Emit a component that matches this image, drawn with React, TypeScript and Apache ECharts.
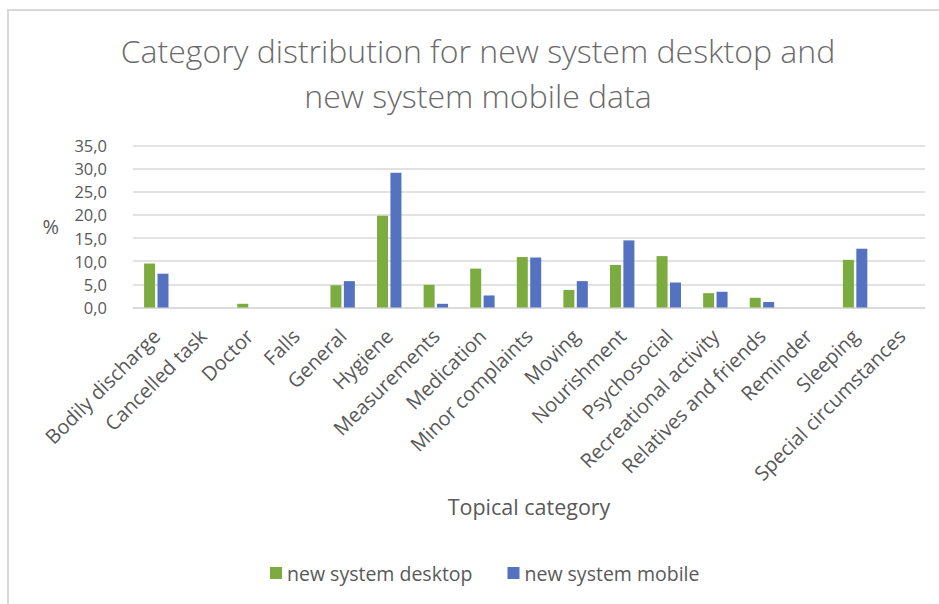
import React, { useEffect, useRef } from "react";
import * as echarts from "echarts";

const categories = [
  "Bodily discharge",
  "Cancelled task",
  "Doctor",
  "Falls",
  "General",
  "Hygiene",
  "Measurements",
  "Medication",
  "Minor complaints",
  "Moving",
  "Nourishment",
  "Psychosocial",
  "Recreational activity",
  "Relatives and friends",
  "Reminder",
  "Sleeping",
  "Special circumstances",
];

const desktopValues = [9.5, 0, 0.8, 0, 4.8, 19.8, 4.9, 8.4, 10.9, 3.8, 9.2, 11.1, 3.1, 2.1, 0, 10.3, 0];
const mobileValues = [7.3, 0, 0, 0, 5.7, 29.1, 0.8, 2.6, 10.8, 5.7, 14.5, 5.4, 3.4, 1.2, 0, 12.7, 0];

const seriesNames = ["new system desktop", "new system mobile"];
const titleText = "Category distribution for new system desktop and\nnew system mobile data";
const xAxisTitle = "Topical category";
const yAxisTitle = "%";

const FONT = "'Open Sans', 'Noto Sans', sans-serif";
const TEXT_COLOR = "#595959";

export default function App() {
  const ref = useRef<HTMLDivElement>(null);

  useEffect(() => {
    document.body.style.margin = "0";
    if (!ref.current) return;
    const chart = echarts.init(ref.current, undefined, { renderer: "svg" });
    chart.setOption({
      animation: false,
      backgroundColor: "#ffffff",
      textStyle: { fontFamily: FONT },
      graphic: [
        {
          type: "rect",
          shape: { x: 8, y: 10, width: 960, height: 620 },
          style: { fill: "none", stroke: "#d9d9d9", lineWidth: 2 },
          silent: true,
        },
        {
          type: "text",
          x: 478,
          y: 27.5,
          silent: true,
          style: {
            text: titleText,
            fontFamily: FONT,
            fontSize: 32,
            fontWeight: 300,
            fill: "#6b6b6b",
            lineHeight: 45,
            align: "center",
            verticalAlign: "top",
          },
        },
      ],
      legend: {
        top: 558,
        left: 265,
        itemWidth: 12,
        itemHeight: 12,
        itemGap: 35,
        icon: "rect",
        textStyle: { fontFamily: FONT, fontSize: 19.5, color: TEXT_COLOR },
        data: seriesNames,
      },
      grid: {
        left: 133,
        right: 14,
        top: 145.5,
        bottom: 296.5,
        containLabel: false,
      },
      xAxis: {
        type: "category",
        data: categories,
        name: xAxisTitle,
        nameLocation: "middle",
        nameGap: 188,
        nameTextStyle: { fontFamily: FONT, fontSize: 21.5, color: TEXT_COLOR },
        axisTick: { show: false },
        axisLine: { lineStyle: { color: "#d9d9d9", width: 1.5 } },
        axisLabel: {
          interval: 0,
          rotate: 45,
          margin: 25,
          fontFamily: FONT,
          fontSize: 20,
          color: TEXT_COLOR,
        },
      },
      yAxis: {
        type: "value",
        min: 0,
        max: 35,
        interval: 5,
        name: yAxisTitle,
        nameLocation: "middle",
        nameRotate: 0,
        nameGap: 74,
        nameTextStyle: { fontFamily: FONT, fontSize: 20, color: TEXT_COLOR },
        axisLine: { show: false },
        axisTick: { show: false },
        splitLine: { lineStyle: { color: "#d9d9d9", width: 1.5 } },
        axisLabel: {
          margin: 26,
          fontFamily: FONT,
          fontSize: 16.5,
          color: TEXT_COLOR,
          formatter: (v: number) => v.toFixed(1).replace(".", ","),
        },
      },
      series: [
        {
          name: seriesNames[0],
          type: "bar",
          data: desktopValues,
          barWidth: 11,
          barGap: "22%",
          itemStyle: { color: "#7cab3f" },
        },
        {
          name: seriesNames[1],
          type: "bar",
          data: mobileValues,
          barWidth: 11,
          itemStyle: { color: "#5472bf" },
        },
      ],
    });
    return () => chart.dispose();
  }, []);

  return <div ref={ref} style={{ width: 939, height: 604 }} />;
}
